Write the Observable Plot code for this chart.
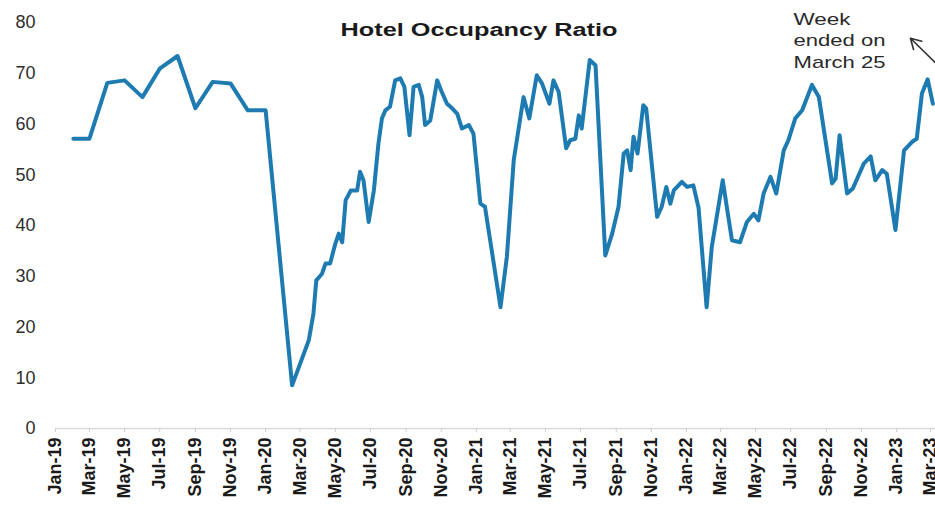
<!DOCTYPE html>
<html><head><meta charset="utf-8">
<script src="https://cdn.jsdelivr.net/npm/d3@7"></script>
<script src="https://cdn.jsdelivr.net/npm/@observablehq/plot@0.6"></script>
<style>
html,body{margin:0;padding:0;background:#fff;overflow:hidden;}
#chart{width:935px;height:506px;}
</style></head><body><div id="chart"></div>
<script>
const title = "Hotel Occupancy Ratio";
const dates = [
"2019-02-01","2019-03-01","2019-04-01","2019-05-01","2019-06-01","2019-07-01","2019-08-01","2019-09-01","2019-10-01","2019-11-01","2019-12-01","2020-01-01",
"2020-02-16","2020-03-16","2020-03-24","2020-03-29","2020-04-08","2020-04-14","2020-04-22","2020-05-01","2020-05-07","2020-05-13","2020-05-19","2020-05-28",
"2020-06-08","2020-06-13","2020-06-19","2020-06-28","2020-07-07","2020-07-15","2020-07-21","2020-07-27","2020-08-04","2020-08-13","2020-08-22","2020-08-29",
"2020-09-07","2020-09-14","2020-09-23","2020-09-29","2020-10-04","2020-10-13","2020-10-25","2020-11-02","2020-11-11","2020-11-20","2020-11-29","2020-12-07",
"2020-12-19","2020-12-27","2021-01-08","2021-01-16","2021-01-25","2021-02-12","2021-02-23","2021-03-07","2021-03-24","2021-04-03","2021-04-16","2021-04-25",
"2021-05-08","2021-05-15","2021-05-24","2021-06-06","2021-06-13","2021-06-22","2021-06-28","2021-07-03","2021-07-17","2021-07-27","2021-08-13","2021-08-25",
"2021-09-05","2021-09-14","2021-09-20","2021-09-26","2021-10-01","2021-10-08","2021-10-18","2021-10-23","2021-11-11","2021-11-19","2021-11-27","2021-12-04",
"2021-12-10","2021-12-24","2022-01-02","2022-01-13","2022-01-22","2022-02-05","2022-02-14","2022-03-05","2022-03-21","2022-04-04","2022-04-16","2022-04-28",
"2022-05-06","2022-05-15","2022-05-27","2022-06-06","2022-06-19","2022-06-27","2022-07-09","2022-07-21","2022-08-07","2022-08-19","2022-09-11","2022-09-17",
"2022-09-24","2022-10-07","2022-10-17","2022-11-05","2022-11-17","2022-11-25","2022-12-07","2022-12-15","2022-12-30","2023-01-14","2023-01-28","2023-02-05",
"2023-02-14","2023-02-24","2023-03-05"
];
const values = [
57.1,57.1,68.1,68.6,65.3,70.9,73.4,63.1,68.3,68.0,62.7,62.7,
8.5,17.4,22.6,29.2,30.5,32.5,32.5,36.4,38.4,36.7,45.0,46.9,
46.9,50.6,48.9,40.7,46.9,56.2,61.1,62.7,63.4,68.6,69.0,67.3,
57.8,67.3,67.7,65.3,59.8,60.7,68.6,66.3,64.0,63.1,62.0,59.1,
59.8,58.1,44.3,43.7,37.1,23.9,33.8,52.9,65.3,61.1,69.6,68.0,
64.0,68.6,66.3,55.2,56.8,57.1,61.7,59.1,72.6,71.6,34.1,38.4,
43.7,54.2,54.8,50.9,57.5,54.2,63.7,63.1,41.7,43.7,47.6,44.3,
46.9,48.6,47.6,47.9,43.5,23.9,35.8,48.9,37.1,36.7,40.7,42.3,
41.0,46.3,49.6,46.3,54.8,56.8,61.1,62.7,67.7,65.3,48.3,49.2,
57.8,46.3,47.3,52.2,53.6,48.9,50.9,50.2,39.1,54.8,56.5,57.1,
66.0,68.8,64.0
];
const yTicks = [0,10,20,30,40,50,60,70,80];
const xTickDates = [
"2019-01-01","2019-03-01","2019-05-01","2019-07-01","2019-09-01","2019-11-01",
"2020-01-01","2020-03-01","2020-05-01","2020-07-01","2020-09-01","2020-11-01",
"2021-01-01","2021-03-01","2021-05-01","2021-07-01","2021-09-01","2021-11-01",
"2022-01-01","2022-03-01","2022-05-01","2022-07-01","2022-09-01","2022-11-01",
"2023-01-01","2023-03-01"
];
const noteLines = ["Week","ended on","March 25"];
const noteAt = ["2022-07-06", 82.6];
const arrowFrom = ["2023-04-04", 69.2];
const arrowTo = ["2023-01-25", 76.9];

const data = dates.map((d, i) => ({date: new Date(d), value: values[i]}));
const fmt = d3.utcFormat("%b-%y");

const plot = Plot.plot({
  width: 935, height: 506,
  marginLeft: 55, marginRight: 0, marginTop: 22, marginBottom: 78,
  style: {fontFamily: "'Liberation Sans', Arial, sans-serif", background: "#fff"},
  x: {type: "utc", domain: [new Date("2019-01-01"), new Date("2023-03-09T14:00:00Z")], label: null},
  y: {domain: [0, 80], label: null},
  marks: [
    Plot.ruleY([0], {stroke: "#d9d9d9", strokeWidth: 1.5}),
    Plot.axisX({ticks: xTickDates.map(d => new Date(d)), tickFormat: fmt, tickRotate: -90, tickSize: 4,
      tickPadding: 5, stroke: "#cfcfcf", fill: "#1a1a1a", fontSize: 18, fontWeight: "bold", label: null}),
    Plot.axisY({ticks: yTicks, tickSize: 0, tickPadding: 20, fontSize: 18, fill: "#2e2e2e", label: null}),
    Plot.lineY(data, {x: "date", y: "value", stroke: "#1e7bb2", strokeWidth: 4, strokeLinejoin: "round", strokeLinecap: "round"}),
    Plot.text([title], {frameAnchor: "top", text: d => d, dx: -16.5, dy: 8, lineAnchor: "middle",
      fontSize: 18, fontWeight: "bold", fill: "#1a1a1a"}),
    Plot.text([{date: new Date(noteAt[0]), value: noteAt[1], text: noteLines.join("\n")}],
      {x: "date", y: "value", text: "text", textAnchor: "start", lineAnchor: "top", fontSize: 17,
       lineHeight: 1.27, fill: "#2a2a2a"}),
    Plot.arrow([{x1: new Date(arrowFrom[0]), y1: arrowFrom[1], x2: new Date(arrowTo[0]), y2: arrowTo[1]}],
      {x1: "x1", y1: "y1", x2: "x2", y2: "y2", stroke: "#333", strokeWidth: 1.6, headLength: 11})
  ]
});
document.getElementById("chart").appendChild(plot);

const lengths = {"Hotel Occupancy Ratio": 277, "Week": 57, "ended on": 92, "March 25": 92};
plot.querySelectorAll("text, tspan").forEach(el => {
  if (el.querySelector && el.querySelector("tspan")) return;
  const t = el.textContent;
  if (lengths[t]) {
    el.setAttribute("textLength", lengths[t]);
    el.setAttribute("lengthAdjust", "spacingAndGlyphs");
  }
});
</script>
</body></html>
